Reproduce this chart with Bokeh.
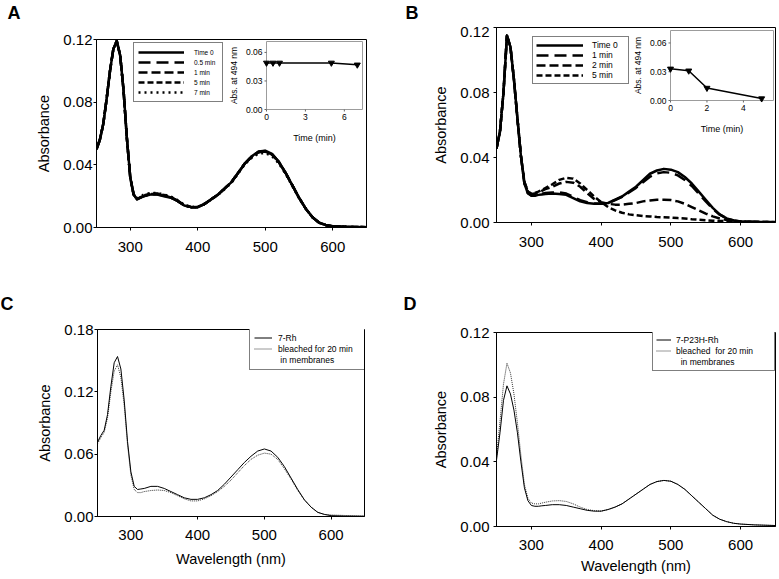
import math
from bokeh.plotting import figure
from bokeh.models import Range1d, FixedTicker, PrintfTickFormatter, Legend, LegendItem
from bokeh.layouts import column, row
from bokeh.embed import file_html
from bokeh.resources import INLINE
from bokeh.core.properties import value

FONT = "Liberation Sans"

# ---------------- data ----------------
wavelength = [250, 255, 260, 265, 270, 275, 280, 285, 290, 295, 300, 305, 310, 315, 320,
              330, 340, 350, 360, 370, 380, 390, 400, 410, 420, 430, 440, 450, 460, 470,
              480, 490, 500, 510, 520, 530, 540, 550, 560, 570, 580, 590, 600, 620, 650]

A_time0 = [0.050, 0.056, 0.066, 0.082, 0.100, 0.114, 0.119, 0.110, 0.088, 0.057, 0.032, 0.021, 0.018, 0.019, 0.020,
           0.021, 0.021, 0.020, 0.019, 0.017, 0.014, 0.013, 0.013, 0.015, 0.018, 0.021, 0.025, 0.029, 0.035, 0.041,
           0.0455, 0.0485, 0.049, 0.047, 0.042, 0.035, 0.027, 0.019, 0.012, 0.0065, 0.003, 0.0015, 0.0008, 0.0004, 0.0002]
A_05min = [0.050, 0.056, 0.066, 0.082, 0.100, 0.114, 0.119, 0.110, 0.088, 0.057, 0.032, 0.021, 0.018, 0.019, 0.020,
           0.0212, 0.0212, 0.0202, 0.019, 0.017, 0.014, 0.013, 0.013, 0.015, 0.018, 0.021, 0.025, 0.029, 0.035, 0.041,
           0.0453, 0.0483, 0.0488, 0.0468, 0.042, 0.035, 0.027, 0.019, 0.012, 0.0065, 0.003, 0.0015, 0.0008, 0.0004, 0.0002]
A_1min = [0.050, 0.056, 0.066, 0.082, 0.100, 0.114, 0.119, 0.110, 0.088, 0.057, 0.032, 0.021, 0.018, 0.019, 0.020,
          0.0213, 0.0214, 0.0204, 0.0192, 0.017, 0.014, 0.013, 0.013, 0.015, 0.018, 0.021, 0.025, 0.029, 0.035, 0.041,
          0.0452, 0.0481, 0.0486, 0.0466, 0.0418, 0.035, 0.027, 0.019, 0.012, 0.0065, 0.003, 0.0015, 0.0008, 0.0004, 0.0002]
A_5min = [0.050, 0.056, 0.066, 0.082, 0.100, 0.114, 0.119, 0.110, 0.088, 0.057, 0.032, 0.021, 0.0182, 0.0192, 0.0205,
          0.0216, 0.0217, 0.0207, 0.0195, 0.0172, 0.0142, 0.0131, 0.0131, 0.015, 0.018, 0.021, 0.025, 0.029, 0.035, 0.041,
          0.0451, 0.048, 0.0485, 0.0465, 0.0417, 0.0348, 0.027, 0.019, 0.012, 0.0065, 0.003, 0.0015, 0.0008, 0.0004, 0.0002]
A_7min = [0.050, 0.056, 0.066, 0.082, 0.100, 0.114, 0.119, 0.110, 0.088, 0.057, 0.032, 0.021, 0.0185, 0.0196, 0.021,
          0.022, 0.022, 0.021, 0.0198, 0.0175, 0.0145, 0.0133, 0.0132, 0.015, 0.0178, 0.0208, 0.0245, 0.0285, 0.0345, 0.0405,
          0.0445, 0.0472, 0.0475, 0.0455, 0.041, 0.0343, 0.0265, 0.0188, 0.012, 0.0065, 0.003, 0.0015, 0.0008, 0.0004, 0.0002]

B_time0 = [0.0455, 0.056, 0.080, 0.115, 0.108, 0.088, 0.064, 0.041, 0.024, 0.018, 0.0165, 0.0165, 0.017, 0.0173, 0.0176,
           0.0178, 0.0176, 0.017, 0.015, 0.013, 0.012, 0.0115, 0.0115, 0.012, 0.014, 0.016, 0.019, 0.022, 0.026, 0.030,
           0.032, 0.033, 0.0325, 0.031, 0.028, 0.024, 0.019, 0.014, 0.009, 0.005, 0.0025, 0.0012, 0.0006, 0.0003, 0.0002]
B_1min = [0.0455, 0.056, 0.080, 0.115, 0.108, 0.088, 0.064, 0.041, 0.024, 0.018, 0.0167, 0.0168, 0.0172, 0.0177, 0.0181,
          0.0185, 0.0186, 0.0178, 0.0158, 0.0137, 0.0125, 0.0117, 0.0115, 0.012, 0.0138, 0.0158, 0.0185, 0.0213, 0.0248, 0.0282,
          0.0302, 0.031, 0.0306, 0.029, 0.0262, 0.0225, 0.0178, 0.013, 0.0085, 0.0048, 0.0025, 0.0012, 0.0006, 0.0003, 0.0002]
B_2min = [0.0455, 0.056, 0.080, 0.115, 0.108, 0.088, 0.064, 0.041, 0.025, 0.019, 0.0175, 0.0178, 0.0185, 0.0195, 0.0205,
          0.022, 0.0240, 0.0250, 0.0245, 0.022, 0.018, 0.0145, 0.0125, 0.0115, 0.011, 0.011, 0.0115, 0.012, 0.013, 0.0135,
          0.014, 0.014, 0.0138, 0.013, 0.0115, 0.0095, 0.0075, 0.0055, 0.0038, 0.0025, 0.0015, 0.001, 0.0006, 0.0003, 0.0002]
B_5min = [0.0455, 0.056, 0.080, 0.115, 0.108, 0.088, 0.064, 0.041, 0.025, 0.019, 0.0178, 0.0182, 0.019, 0.020, 0.0212,
          0.0235, 0.0262, 0.0275, 0.027, 0.024, 0.020, 0.016, 0.0125, 0.0095, 0.0075, 0.006, 0.005, 0.0045, 0.004, 0.0037,
          0.0034, 0.0032, 0.003, 0.0027, 0.0024, 0.002, 0.0017, 0.0014, 0.0011, 0.0009, 0.0008, 0.0007, 0.0006, 0.0004, 0.0003]

C_rh = [0.0716, 0.078, 0.083, 0.098, 0.125, 0.148, 0.154, 0.142, 0.112, 0.072, 0.043, 0.029, 0.026, 0.0265, 0.027,
        0.029, 0.029, 0.027, 0.024, 0.021, 0.018, 0.0165, 0.0165, 0.018, 0.021, 0.025, 0.031, 0.038, 0.045, 0.052,
        0.058, 0.063, 0.065, 0.063, 0.057, 0.048, 0.037, 0.026, 0.016, 0.009, 0.004, 0.002, 0.0008, 0.0004, 0.0002]
C_bleached = [0.070, 0.076, 0.081, 0.095, 0.120, 0.140, 0.146, 0.134, 0.107, 0.069, 0.040, 0.026, 0.023, 0.023, 0.024,
              0.025, 0.0255, 0.025, 0.023, 0.020, 0.017, 0.015, 0.015, 0.017, 0.020, 0.024, 0.029, 0.035, 0.042, 0.049,
              0.055, 0.059, 0.061, 0.060, 0.055, 0.046, 0.036, 0.025, 0.016, 0.009, 0.004, 0.002, 0.0015, 0.001, 0.0005]

D_p23h = [0.041, 0.058, 0.078, 0.087, 0.082, 0.072, 0.058, 0.040, 0.024, 0.016, 0.013, 0.0125, 0.0125, 0.0128, 0.013,
          0.0135, 0.0135, 0.013, 0.012, 0.011, 0.010, 0.0095, 0.0095, 0.0105, 0.012, 0.014, 0.017, 0.020, 0.023, 0.026,
          0.0278, 0.0285, 0.028, 0.026, 0.023, 0.019, 0.015, 0.011, 0.007, 0.0045, 0.003, 0.002, 0.0015, 0.001, 0.0006]
D_bleached = [0.043, 0.065, 0.088, 0.101, 0.095, 0.082, 0.064, 0.044, 0.026, 0.0175, 0.0145, 0.014, 0.014, 0.0145, 0.015,
              0.0158, 0.016, 0.0155, 0.014, 0.012, 0.0105, 0.0098, 0.0095, 0.0105, 0.012, 0.014, 0.017, 0.020, 0.023, 0.026,
              0.0278, 0.0285, 0.028, 0.026, 0.023, 0.019, 0.015, 0.011, 0.007, 0.0045, 0.003, 0.002, 0.0015, 0.001, 0.0006]

inset_A_time = [0, 0.5, 1, 5, 7]
inset_A_abs = [0.049, 0.049, 0.049, 0.049, 0.047]
inset_B_time = [0, 1, 2, 5]
inset_B_abs = [0.033, 0.031, 0.013, 0.002]

x_ticks = [300, 400, 500, 600]
y_ticks_012 = [0.0, 0.04, 0.08, 0.12]
y_ticks_018 = [0.0, 0.06, 0.12, 0.18]
inset_A_xticks = [0, 3, 6]
inset_B_xticks = [0, 2, 4]
inset_yticks = [0.0, 0.03, 0.06]

panel_letters_top = ["A", "B"]
panel_letters_bottom = ["C", "D"]


# ---------------- helpers ----------------
def letter_strip(height, letters, xs, top):
    s = figure(width=779, height=height, x_range=Range1d(0, 779), y_range=Range1d(height, 0),
               title=None, output_backend="svg", toolbar_location=None, x_axis_type=None, y_axis_type=None,
               min_border=0, frame_align=False)
    s.grid.visible = False
    s.outline_line_color = None
    s.background_fill_color = "white"
    s.border_fill_color = "white"
    s.text(x=xs, y=[top] * len(letters), text=letters, text_font=value(FONT),
           text_font_size="18px", text_font_style="bold", text_color="black",
           text_align="left", text_baseline="top")
    return s


def make_panel(width, height, frame, y_max, y_ticks, xlabel, ylab_standoff, xlab_standoff, xaxis_label_standoff):
    fl, fr, ft, fb = frame  # frame edges in canvas px
    p = figure(width=width, height=height, x_range=Range1d(250, 650), y_range=Range1d(0, y_max),
               title=None, output_backend="svg", toolbar_location=None, frame_align=False,
               min_border_left=fl, min_border_right=width - fr,
               min_border_top=ft, min_border_bottom=height - fb)
    p.xgrid.visible = False
    p.ygrid.visible = False
    p.outline_line_color = "black"
    p.outline_line_width = 1
    p.outline_line_alpha = 1
    p.background_fill_color = "white"
    p.border_fill_color = "white"
    for ax in (p.xaxis[0], p.yaxis[0]):
        ax.major_tick_in = 0
        ax.major_tick_out = 3
        ax.minor_tick_line_color = None
        ax.axis_line_color = "black"
        ax.major_tick_line_color = "black"
        ax.major_label_text_font = FONT
        ax.major_label_text_font_size = "15px"
        ax.major_label_text_color = "black"
        ax.axis_label_text_font = FONT
        ax.axis_label_text_font_size = "14.5px"
        ax.axis_label_text_font_style = "normal"
        ax.axis_label_text_color = "black"
    p.xaxis[0].ticker = FixedTicker(ticks=x_ticks)
    p.yaxis[0].ticker = FixedTicker(ticks=y_ticks)
    p.yaxis[0].formatter = PrintfTickFormatter(format="%.2f")
    p.yaxis[0].axis_label = "Absorbance"
    p.yaxis[0].major_label_standoff = ylab_standoff
    p.yaxis[0].axis_label_standoff = 8
    p.xaxis[0].major_label_standoff = xlab_standoff
    p.xaxis[0].axis_label_standoff = xaxis_label_standoff
    if xlabel:
        p.xaxis[0].axis_label = xlabel
    return p


def add_inset(p, main_px, inset_px, src_x, src_y, xticks, yticks, t, a):
    ml, mr, mt, mb = main_px
    il, ir, it, ib = inset_px
    xr, yr = p.x_range, p.y_range
    def dx(px):
        return xr.start + (px - ml) / (mr - ml) * (xr.end - xr.start)
    def dy(py):
        return yr.start + (mb - py) / (mb - mt) * (yr.end - yr.start)
    sub = p.subplot(x_source=Range1d(*src_x), y_source=Range1d(*src_y),
                    x_target=Range1d(dx(il), dx(ir)), y_target=Range1d(dy(ib), dy(it)))
    ux = (src_x[1] - src_x[0]) / (ir - il)
    uy = (src_y[1] - src_y[0]) / (ib - it)
    sub.quad(left=src_x[0], right=src_x[1], bottom=src_y[0], top=src_y[1],
             fill_color="white", line_color="#9c9c9c", line_width=1)
    n, m = len(xticks), len(yticks)
    sub.segment(x0=xticks, y0=[src_y[0]] * n, x1=xticks, y1=[src_y[0] - 2 * uy] * n,
                line_color="#666666", line_width=1)
    sub.segment(x0=[src_x[0]] * m, y0=yticks, x1=[src_x[0] - 2 * ux] * m, y1=yticks,
                line_color="#666666", line_width=1)
    sub.text(x=xticks, y=[src_y[0]] * n, text=[str(v) for v in xticks], y_offset=4,
             text_align="center", text_baseline="top", text_font=value(FONT),
             text_font_size="8.5px", text_color="black")
    sub.text(x=[src_x[0]] * m, y=yticks, text=["%.2f" % v for v in yticks], x_offset=-4,
             text_align="right", text_baseline="middle", text_font=value(FONT),
             text_font_size="8.5px", text_color="black")
    sub.text(x=[(src_x[0] + src_x[1]) / 2], y=[src_y[0]], text=["Time (min)"], y_offset=28,
             text_align="center", text_baseline="middle", text_font=value(FONT),
             text_font_size="9px", text_color="black")
    sub.text(x=[src_x[0]], y=[(src_y[0] + src_y[1]) / 2], text=["Abs. at 494 nm"], x_offset=-33,
             angle=math.pi / 2, text_align="center", text_baseline="middle", text_font=value(FONT),
             text_font_size="8.5px", text_color="black")
    sub.line(t, a, line_color="black", line_width=1.5)
    sub.scatter(t, a, marker="inverted_triangle", size=6, fill_color="black", line_color="black")


def make_legend(items, loc, padding, glyph_w, row_h, standoff, font_size, label_w):
    return Legend(items=items, location=loc, margin=0, padding=padding, spacing=0,
                  glyph_width=glyph_w, glyph_height=row_h, label_height=row_h,
                  label_standoff=standoff, label_width=label_w,
                  label_text_font=FONT, label_text_font_size=font_size, label_text_color="black",
                  border_line_color="black", border_line_width=1, background_fill_color="white",
                  background_fill_alpha=1)


# ---------------- letter strips ----------------
strip_top = letter_strip(26, panel_letters_top, [7, 405], 2)
strip_bottom = letter_strip(26, panel_letters_bottom, [0, 403], 3)

# ---------------- panel A (page y 26..290) ----------------
pA = make_panel(390, 264, (96, 366, 13, 201), 0.12, y_ticks_012, None, 1, 11, 3)
styles_A = [("7 min", A_7min, "2 4"), ("5 min", A_5min, "6 3"), ("1 min", A_1min, "9 4"),
            ("0.5 min", A_05min, "12 6"), ("Time 0", A_time0, None)]
rA = {}
for name, ys, dash in styles_A:
    kw = dict(line_color="black", line_width=2.5, line_join="round")
    if dash:
        kw["line_dash"] = dash
    rA[name] = pA.line(wavelength, ys, **kw)
add_inset(pA, (96, 366, 39, 227), (266, 362, 41, 109), (0, 7.4), (0, 0.0715),
          inset_A_xticks, inset_yticks, inset_A_time, inset_A_abs)
legA = make_legend([LegendItem(label=k, renderers=[rA[k]]) for k in ["Time 0", "0.5 min", "1 min", "5 min", "7 min"]],
                   (37, 125), 4, 46, 10, 10, "6.5px", 24)
pA.add_layout(legA)

# ---------------- panel B ----------------
pB = make_panel(389, 264, (106, 385, 1, 196), 0.12, y_ticks_012, None, 4, 11, 3)
styles_B = [("5 min", B_5min, "6 3"), ("2 min", B_2min, "9 4"), ("1 min", B_1min, "12 6"), ("Time 0", B_time0, None)]
rB = {}
for name, ys, dash in styles_B:
    kw = dict(line_color="black", line_width=2.5, line_join="round")
    if dash:
        kw["line_dash"] = dash
    rB[name] = pB.line(wavelength, ys, **kw)
add_inset(pB, (496, 775, 27, 222), (670, 773, 30, 100), (0, 5.65), (0, 0.073),
          inset_B_xticks, inset_yticks, inset_B_time, inset_B_abs)
legB = make_legend([LegendItem(label=k, renderers=[rB[k]]) for k in ["Time 0", "1 min", "2 min", "5 min"]],
                   (36, 138), 3, 47, 10, 9, "8.5px", 33)
pB.add_layout(legB)

# ---------------- panel C (page y 316..579) ----------------
pC = make_panel(390, 263, (97, 364, 13, 200), 0.18, y_ticks_018, "Wavelength (nm)", 1, 10, 8)
rC_b = pC.line(wavelength, C_bleached, line_color="#333333", line_width=1, line_dash="1 1")
rC_s = pC.line(wavelength, C_rh, line_color="black", line_width=1)
rC_e = pC.line([], [], line_alpha=0)
legC = make_legend([LegendItem(label="7-Rh", renderers=[rC_s]),
                    LegendItem(label="bleached for 20 min", renderers=[rC_b]),
                    LegendItem(label=" in membranes", renderers=[rC_e])],
                   (152, 146), 4, 18, 11, 6, "8.5px", 82)
pC.add_layout(legC)

# ---------------- panel D ----------------
pD = make_panel(389, 263, (106, 385, 16, 210), 0.12, y_ticks_012, "Wavelength (nm)", 4, 10, 5)
rD_b = pD.line(wavelength, D_bleached, line_color="#333333", line_width=1, line_dash="1 1")
rD_s = pD.line(wavelength, D_p23h, line_color="black", line_width=1)
rD_e = pD.line([], [], line_alpha=0)
legD = make_legend([LegendItem(label="7-P23H-Rh", renderers=[rD_s]),
                    LegendItem(label="bleached  for 20 min", renderers=[rD_b]),
                    LegendItem(label="  in membranes", renderers=[rD_e])],
                   (156, 155), 3, 15, 11, 5, "8.5px", 95)
pD.add_layout(legD)

layout = column(strip_top, row(pA, pB), strip_bottom, row(pC, pD))
open("out.html", "w").write(file_html(layout, INLINE))
